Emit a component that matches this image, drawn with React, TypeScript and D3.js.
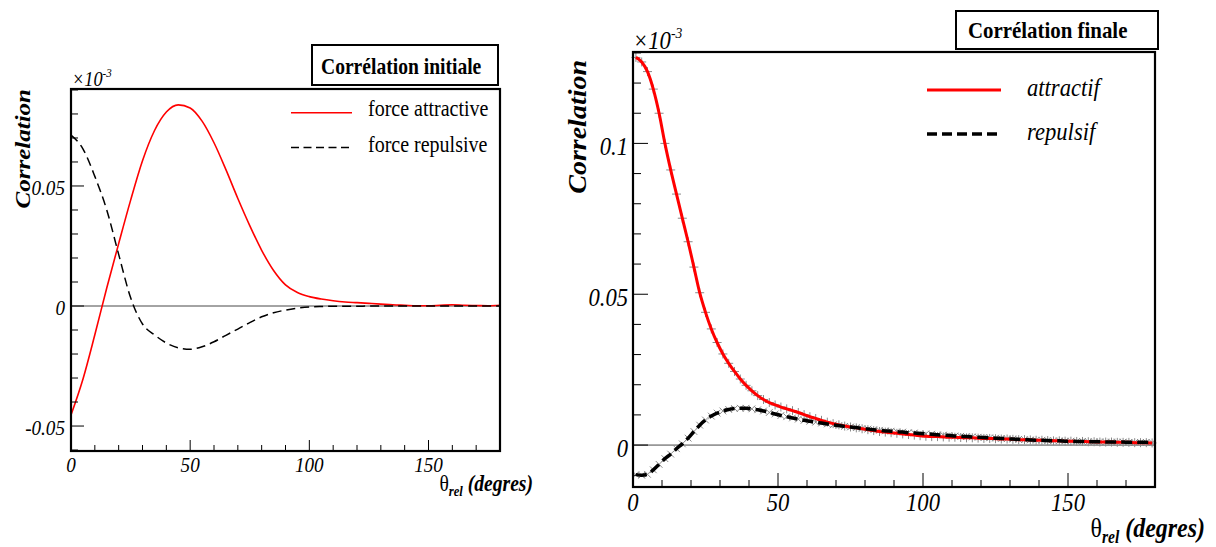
import React from "react";
import * as d3 from "d3";

const FONT = "'Liberation Serif', 'DejaVu Serif', 'Times New Roman', serif";
const SX = 0.87; // horizontal glyph compression used for all labels

// ---------- Panel 1 : initial correlation ----------
const thetaInit = [0, 5, 10, 15, 20, 25, 30, 35, 40, 45, 50, 55, 60, 65, 70, 75, 80, 85, 90, 95, 100, 105, 110, 115, 120, 125, 130, 135, 140, 145, 150, 155, 160, 165, 170, 175, 180];
const attractiveInit = [-0.0454, -0.0305, -0.012, 0.0075, 0.026, 0.044, 0.0605, 0.073, 0.0808, 0.0838, 0.0825, 0.077, 0.068, 0.0568, 0.0448, 0.0335, 0.0232, 0.0148, 0.0088, 0.0056, 0.0039, 0.0029, 0.0022, 0.0017, 0.0014, 0.0011, 0.0008, 0.0005, 0.0003, 0.0001, 0.0001, 0.0003, 0.0005, 0.0003, 0.0002, 0.0001, 0.0003];
const repulsiveInit = [0.0712, 0.0655, 0.054, 0.04, 0.0215, 0.0035, -0.0075, -0.012, -0.0154, -0.0174, -0.018, -0.017, -0.0149, -0.0122, -0.0096, -0.0069, -0.0045, -0.0028, -0.0017, -0.0009, -0.0004, -0.0002, -0.0001, -0.0001, -0.0001, 0, 0, 0, 0, 0, 0, 0, 0, 0, 0, 0, 0];

// ---------- Panel 2 : final correlation (2 degree bins) ----------
const thetaFinal = [1, 3, 5, 7, 9, 11, 13, 15, 17, 19, 21, 23, 25, 27, 29, 31, 33, 35, 37, 39, 41, 43, 45, 47, 49, 51, 53, 55, 57, 59, 61, 63, 65, 67, 69, 71, 73, 75, 77, 79, 81, 83, 85, 87, 89, 91, 93, 95, 97, 99, 101, 103, 105, 107, 109, 111, 113, 115, 117, 119, 121, 123, 125, 127, 129, 131, 133, 135, 137, 139, 141, 143, 145, 147, 149, 151, 153, 155, 157, 159, 161, 163, 165, 167, 169, 171, 173, 175, 177, 179];
const attractifFinal = [0.1285, 0.127, 0.1238, 0.118, 0.11, 0.1, 0.0912, 0.0832, 0.0752, 0.0674, 0.059, 0.0505, 0.044, 0.0385, 0.034, 0.0302, 0.0271, 0.0244, 0.0219, 0.0198, 0.018, 0.0164, 0.0151, 0.0141, 0.0133, 0.0126, 0.012, 0.0114, 0.0108, 0.0101, 0.0094, 0.0088, 0.0082, 0.0076, 0.0071, 0.0067, 0.0063, 0.006, 0.0057, 0.0054, 0.0051, 0.0048, 0.0045, 0.0043, 0.0041, 0.0039, 0.0037, 0.0035, 0.0033, 0.0031, 0.0029, 0.0028, 0.0028, 0.0027, 0.0026, 0.0026, 0.0025, 0.0024, 0.0024, 0.0023, 0.0022, 0.0022, 0.0021, 0.002, 0.002, 0.0019, 0.0018, 0.0018, 0.0017, 0.0016, 0.0016, 0.0015, 0.0014, 0.0014, 0.0013, 0.0013, 0.0012, 0.0012, 0.0011, 0.0011, 0.001, 0.001, 0.001, 0.0009, 0.0009, 0.0009, 0.0008, 0.0008, 0.0008, 0.0007];
const repulsifFinal = [-0.0098, -0.01, -0.0097, -0.0082, -0.0064, -0.0045, -0.003, -0.0012, 0.0004, 0.0023, 0.0045, 0.0066, 0.0083, 0.0096, 0.0106, 0.0113, 0.0118, 0.0121, 0.0122, 0.0122, 0.012, 0.0117, 0.0113, 0.0108, 0.0103, 0.0098, 0.0094, 0.009, 0.0086, 0.0082, 0.0079, 0.0076, 0.0073, 0.007, 0.0067, 0.0065, 0.0062, 0.006, 0.0058, 0.0055, 0.0053, 0.0051, 0.0049, 0.0047, 0.0046, 0.0044, 0.0043, 0.0041, 0.004, 0.0038, 0.0037, 0.0036, 0.0034, 0.0033, 0.0032, 0.003, 0.0029, 0.0028, 0.0027, 0.0026, 0.0025, 0.0024, 0.0023, 0.0022, 0.0021, 0.002, 0.0019, 0.0018, 0.0017, 0.0016, 0.0016, 0.0015, 0.0014, 0.0014, 0.0013, 0.0013, 0.0012, 0.0012, 0.0011, 0.0011, 0.0011, 0.001, 0.001, 0.001, 0.001, 0.0009, 0.0009, 0.0009, 0.0009, 0.0008];

// ---------- Axis ticks ----------
const xMajorTicks = [0, 50, 100, 150];
const xMajorLabels = ["0", "50", "100", "150"];
const xMinorTicks = [10, 20, 30, 40, 60, 70, 80, 90, 110, 120, 130, 140, 160, 170, 180];

const yMajorInit = [-0.05, 0, 0.05];
const yLabelsInit = ["-0.05", "0", "0.05"];
const yMinorInit = [-0.06, -0.04, -0.03, -0.02, -0.01, 0.01, 0.02, 0.03, 0.04, 0.06, 0.07, 0.08, 0.09];

const yMajorFinal = [0, 0.05, 0.1];
const yLabelsFinal = ["0", "0.05", "0.1"];
const yMinorFinal = [-0.01, 0.01, 0.02, 0.03, 0.04, 0.06, 0.07, 0.08, 0.09, 0.11, 0.12, 0.13];

const titleInit = "Corrélation initiale";
const titleFinal = "Corrélation finale";
const legendInit = ["force attractive", "force repulsive"];
const legendFinal = ["attractif", "repulsif"];
const yTitle = "Correlation";

type TProps = {
  x: number;
  y: number;
  size: number;
  anchor?: "start" | "middle" | "end";
  weight?: string;
  fstyle?: string;
  rotate?: boolean;
  children: React.ReactNode;
};

function T({ x, y, size, anchor = "start", weight = "normal", fstyle = "italic", rotate = false, children }: TProps) {
  const tr = rotate
    ? `translate(${x},${y}) rotate(-90) scale(1,${SX})`
    : `translate(${x},${y}) scale(${SX},1)`;
  return (
    <text transform={tr} fontSize={size} textAnchor={anchor} fontWeight={weight} fontStyle={fstyle} style={{ fontFamily: FONT }} fill="#000">
      {children}
    </text>
  );
}

type PanelProps = {
  x0: number; x1: number; y0: number; y1: number;
  yDomain: [number, number];
  yMajor: number[]; yLabels: string[]; yMinor: number[];
  tick: { yMaj: number; yMin: number; xMaj: number; xMin: number };
  labelSize: number; yLabelDx: number; yLabelDy: number; xLabelDy: number;
  series: { theta: number[]; values: number[]; color: string; width: number; dash?: string; marker?: "plus" | "cross" }[];
};

function Panel(p: PanelProps) {
  const x = d3.scaleLinear().domain([0, 180]).range([p.x0, p.x1]);
  const y = d3.scaleLinear().domain(p.yDomain).range([p.y1, p.y0]);
  const line = d3
    .line<[number, number]>()
    .x((d) => x(d[0]))
    .y((d) => y(d[1]))
    .curve(d3.curveMonotoneX);

  return (
    <g>
      {/* zero reference line */}
      <line x1={p.x0} x2={p.x1} y1={y(0)} y2={y(0)} stroke="#333" strokeWidth={0.9} />

      {/* markers for binned values */}
      {p.series.map((s, si) =>
        s.marker ? (
          <g key={"m" + si} stroke="#8a8a8a" strokeWidth={1}>
            {s.theta.map((t, i) => {
              const cx = x(t);
              const cy = y(s.values[i]);
              const r = 4.5;
              return s.marker === "plus" ? (
                <path key={i} d={`M${cx - r},${cy}H${cx + r}M${cx},${cy - r}V${cy + r}`} />
              ) : (
                <path key={i} d={`M${cx - r * 0.75},${cy - r * 0.75}L${cx + r * 0.75},${cy + r * 0.75}M${cx - r * 0.75},${cy + r * 0.75}L${cx + r * 0.75},${cy - r * 0.75}`} />
              );
            })}
          </g>
        ) : null
      )}

      {/* curves */}
      {p.series.map((s, si) => (
        <path
          key={"l" + si}
          d={line(s.theta.map((t, i) => [t, s.values[i]] as [number, number])) || ""}
          fill="none"
          stroke={s.color}
          strokeWidth={s.width}
          strokeDasharray={s.dash}
        />
      ))}

      {/* ticks */}
      <g stroke="#000" strokeWidth={1}>
        {p.yMajor.map((v) => (
          <line key={"ym" + v} x1={p.x0} x2={p.x0 + p.tick.yMaj} y1={y(v)} y2={y(v)} />
        ))}
        {p.yMinor.map((v) => (
          <line key={"yn" + v} x1={p.x0} x2={p.x0 + p.tick.yMin} y1={y(v)} y2={y(v)} />
        ))}
        {xMajorTicks.map((v) => (
          <line key={"xm" + v} x1={x(v)} x2={x(v)} y1={p.y1} y2={p.y1 - p.tick.xMaj} />
        ))}
        {xMinorTicks.map((v) => (
          <line key={"xn" + v} x1={x(v)} x2={x(v)} y1={p.y1} y2={p.y1 - p.tick.xMin} />
        ))}
      </g>

      {/* frame */}
      <rect x={p.x0} y={p.y0} width={p.x1 - p.x0} height={p.y1 - p.y0} fill="none" stroke="#000" strokeWidth={2.2} />

      {/* tick labels */}
      {p.yMajor.map((v, i) => (
        <T key={"yl" + v} x={p.x0 - p.yLabelDx} y={y(v) + p.yLabelDy} size={p.labelSize} anchor="end">
          {p.yLabels[i]}
        </T>
      ))}
      {xMajorTicks.map((v, i) => (
        <T key={"xl" + v} x={x(v)} y={p.y1 + p.xLabelDy} size={p.labelSize} anchor="middle">
          {xMajorLabels[i]}
        </T>
      ))}
    </g>
  );
}

function AxisTitle({ x, y, size, sub }: { x: number; y: number; size: number; sub: number }) {
  return (
    <text transform={`translate(${x},${y}) scale(${SX},1)`} fontSize={size} textAnchor="end" style={{ fontFamily: FONT }} fill="#000">
      <tspan fontStyle="normal" fontWeight="normal">θ</tspan>
      <tspan fontStyle="italic" fontWeight="bold" fontSize={size * 0.65} dy={sub}>rel</tspan>
      <tspan fontStyle="italic" fontWeight="bold" dy={-sub}>{" (degres)"}</tspan>
    </text>
  );
}

function Exponent({ x, y, size }: { x: number; y: number; size: number }) {
  return (
    <text transform={`translate(${x},${y}) scale(${SX},1)`} fontSize={size} fontStyle="italic" style={{ fontFamily: FONT }} fill="#000">
      <tspan>×10</tspan>
      <tspan fontSize={size * 0.6} dy={-size * 0.42}>-3</tspan>
    </text>
  );
}

export default function App() {
  return (
    <svg width={1216} height={547} viewBox="0 0 1216 547" style={{ position: "absolute", left: 0, top: 0, background: "#fff" }}>
      <rect width={1216} height={547} fill="#fff" />

      {/* ---- left panel ---- */}
      <Panel
        x0={71} x1={500} y0={89} y1={451}
        yDomain={[-0.0604, 0.0904]}
        yMajor={yMajorInit} yLabels={yLabelsInit} yMinor={yMinorInit}
        tick={{ yMaj: 13, yMin: 7, xMaj: 11, xMin: 6 }}
        labelSize={22} yLabelDx={6} yLabelDy={9} xLabelDy={21}
        series={[
          { theta: thetaInit, values: attractiveInit, color: "#ff0000", width: 1.6 },
          { theta: thetaInit, values: repulsiveInit, color: "#000", width: 1.5, dash: "9,5" },
        ]}
      />
      <Exponent x={72} y={86} size={21} />
      <T x={30} y={89} size={25} anchor="end" weight="bold" rotate>{yTitle}</T>
      <AxisTitle x={533} y={491} size={22.5} sub={5} />

      <rect x={312} y={45} width={186} height={40} fill="#fff" stroke="#000" strokeWidth={2} />
      <T x={321} y={74} size={22.5} weight="bold" fstyle="normal">{titleInit}</T>

      <line x1={291} x2={352} y1={112.7} y2={112.7} stroke="#ff0000" strokeWidth={1.6} />
      <T x={368} y={115.5} size={23} fstyle="normal">{legendInit[0]}</T>
      <line x1={291} x2={352} y1={147.5} y2={147.5} stroke="#000" strokeWidth={1.5} strokeDasharray="8,4.5" />
      <T x={368} y={151.5} size={23} fstyle="normal">{legendInit[1]}</T>

      {/* ---- right panel ---- */}
      <Panel
        x0={633} x1={1155} y0={52} y1={487}
        yDomain={[-0.0139, 0.1303]}
        yMajor={yMajorFinal} yLabels={yLabelsFinal} yMinor={yMinorFinal}
        tick={{ yMaj: 15, yMin: 8, xMaj: 14, xMin: 7 }}
        labelSize={26} yLabelDx={5} yLabelDy={12} xLabelDy={24}
        series={[
          { theta: thetaFinal, values: attractifFinal, color: "#ff0000", width: 3, marker: "plus" },
          { theta: thetaFinal, values: repulsifFinal, color: "#000", width: 3.5, dash: "11,5", marker: "cross" },
        ]}
      />
      <Exponent x={633} y={49} size={26} />
      <T x={586} y={60} size={28} anchor="end" weight="bold" rotate>{yTitle}</T>
      <AxisTitle x={1205} y={537} size={27.5} sub={6} />

      <rect x={956} y={11} width={202} height={38} fill="#fff" stroke="#000" strokeWidth={2} />
      <T x={968} y={38} size={24} weight="bold" fstyle="normal">{titleFinal}</T>

      <line x1={927} x2={1001} y1={90} y2={90} stroke="#ff0000" strokeWidth={3} />
      <T x={1027} y={96} size={26}>{legendFinal[0]}</T>
      <line x1={927} x2={1001} y1={134} y2={134} stroke="#000" strokeWidth={3.5} strokeDasharray="10,5" />
      <T x={1027} y={140} size={26}>{legendFinal[1]}</T>
    </svg>
  );
}
